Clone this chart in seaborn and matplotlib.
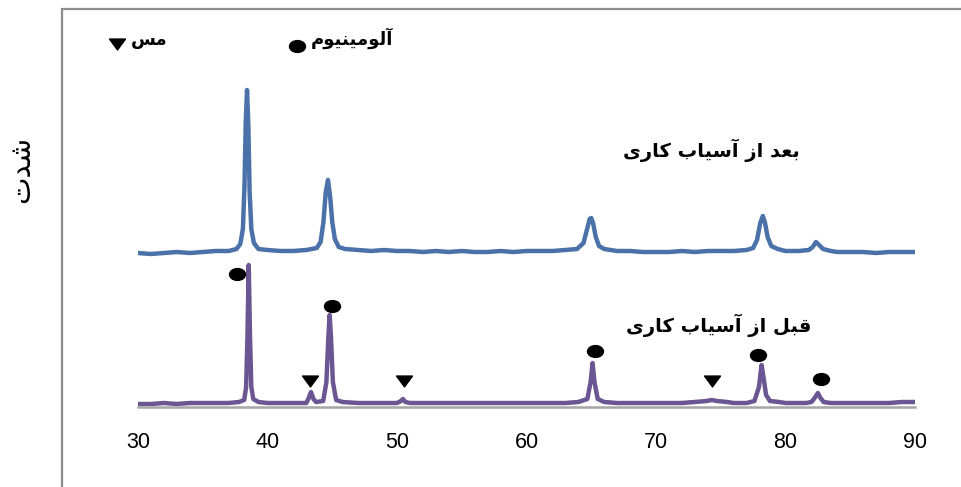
import matplotlib
matplotlib.use("Agg")
import matplotlib.pyplot as plt
import seaborn as sns
import pandas as pd
from matplotlib.path import Path
from matplotlib.patches import Rectangle
from matplotlib import transforms

# ---------------- data ----------------
after_x = [30, 31, 32, 33, 34, 35, 36, 37, 37.6, 37.9, 38.1, 38.22, 38.32, 38.42, 38.52, 38.62, 38.75, 38.95,
           39.3, 40, 41, 42, 43, 43.8, 44.1, 44.32, 44.5, 44.67, 44.84, 45.0, 45.2, 45.5, 46, 47, 48, 49,
           50, 51, 52, 53, 54, 55, 56, 57, 58, 59, 60, 61, 62, 63, 63.9, 64.4, 64.68, 64.88, 65.0, 65.14,
           65.35, 65.6, 66, 67, 68, 69, 70, 71, 72, 73, 74, 75, 76, 77, 77.5, 77.8, 78.05, 78.25, 78.42,
           78.62, 78.9, 79.4, 80, 81, 81.8, 82.1, 82.35, 82.6, 82.9, 83.5, 84, 85, 86, 87, 88, 89, 90]
after_y = [154, 153, 154, 155, 154, 155, 156, 156, 158, 163, 178, 220, 285, 317, 282, 215, 178, 164,
           158, 157, 156, 156, 157, 159, 165, 185, 215, 227, 210, 185, 168, 160, 158, 157, 156, 157,
           156, 156, 155, 156, 155, 156, 155, 155, 156, 155, 156, 156, 156, 157, 158, 164, 178, 188, 189, 184,
           170, 161, 158, 156, 156, 155, 155, 155, 156, 155, 156, 156, 156, 157, 159, 167, 184, 191, 184,
           170, 161, 158, 156, 156, 157, 160, 165, 162, 158, 156, 155, 155, 155, 154, 155, 155, 155]

before_x = [30, 31, 32, 33, 34, 35, 36, 37, 37.8, 38.2, 38.35, 38.45, 38.55, 38.65, 38.75, 38.9, 39.3,
            40, 41, 42, 43, 43.15, 43.36, 43.55, 43.75, 44.3, 44.55, 44.7, 44.8, 44.9, 45.05, 45.3, 45.8,
            47, 48, 49, 50, 50.3, 50.46, 50.65, 51, 52, 53, 54, 55, 56, 57, 58, 59, 60, 61, 62, 63, 64,
            64.7, 64.95, 65.1, 65.25, 65.5, 66, 67, 68, 69, 70, 71, 72, 73, 73.9, 74.3, 74.7, 75.5, 76, 77,
            77.6, 77.95, 78.15, 78.3, 78.5, 78.8, 79.5, 80, 81, 81.6, 82.0, 82.25, 82.5, 82.7, 82.95, 83.5,
            84, 85, 86, 87, 88, 89, 90]
before_y = [3, 3, 4, 3, 4, 4, 4, 4, 5, 7, 20, 70, 142, 70, 20, 8, 5,
            4, 4, 4, 4, 8, 15, 8, 5, 6, 25, 70, 92, 70, 25, 7, 5,
            4, 4, 4, 4, 6, 8, 5, 4, 4, 4, 4, 4, 4, 4, 4, 4, 4, 4, 4, 4, 5,
            8, 25, 44, 25, 8, 5, 4, 4, 4, 4, 4, 4, 5, 6, 7, 6, 5, 4, 4,
            6, 20, 42, 30, 12, 6, 5, 4, 4, 4, 5, 9, 14, 9, 5, 4,
            4, 4, 4, 4, 4, 5, 5]

al_x = [37.64, 44.98, 65.29, 77.9, 82.74]
al_y = [133, 101, 56, 52, 28]
cu_x = [43.28, 50.54, 74.3]
cu_y = [26, 26, 26]

x_ticks = [30, 40, 50, 60, 70, 80, 90]


def shaped(s):
    # text given in Arabic presentation forms (logical order); reversed for LTR rendering
    return s[::-1]


label_after = shaped("\uFE91\uFECC\uFEAA \uFE8D\uFEAF \uFE81\uFEB3\uFBFF\uFE8E\uFE8F \uFB90\uFE8E\uFEAD\uFBFC")
label_before = shaped("\uFED7\uFE92\uFEDE \uFE8D\uFEAF \uFE81\uFEB3\uFBFF\uFE8E\uFE8F \uFB90\uFE8E\uFEAD\uFBFC")
label_cu = shaped("\uFEE3\uFEB2")
label_al = shaped("\uFE81\uFEDF\uFEEE\uFEE3\uFBFF\uFEE8\uFBFF\uFEEE\uFEE1")
label_y = shaped("\uFEB7\uFEAA\uFE95")

blue = "#4A72A8"
purple = "#6B5592"

df = pd.concat([
    pd.DataFrame({"x": after_x, "y": after_y, "s": "after"}),
    pd.DataFrame({"x": before_x, "y": before_y, "s": "before"}),
])

sns.set_theme(style="white")
plt.rcParams["font.family"] = ["DejaVu Sans"]
plt.rcParams["text.color"] = "black"

W, H = 962, 487
fig = plt.figure(figsize=(W / 100, H / 100), dpi=100)
ax = fig.add_axes([138 / W, (H - 407) / H, (915 - 138) / W, 357 / H])

sns.lineplot(data=df, x="x", y="y", hue="s", palette={"after": blue, "before": purple},
             linewidth=3.2, ax=ax, legend=False, sort=False, estimator=None)

ellipse = Path.unit_circle().transformed(transforms.Affine2D().scale(1.35, 1.0))
tri = Path([(-1, 0.68), (1, 0.68), (0, -0.68), (-1, 0.68)], closed=True)

ax.plot(al_x, al_y, linestyle="none", marker=ellipse, markersize=11.5, color="black")
ax.plot(cu_x, cu_y, linestyle="none", marker=tri, markersize=11.5, color="black")

ax.set_xlim(30, 90)
ax.set_ylim(0, 357)
ax.set_xticks(x_ticks)
ax.set_xticklabels([str(t) for t in x_ticks], fontfamily="Liberation Sans", fontsize=15.5, color="black")
ax.set_yticks([])
ax.set_xlabel("")
ax.set_ylabel("")
for s in ["top", "right", "left"]:
    ax.spines[s].set_visible(False)
ax.spines["bottom"].set_color("#A6A6A6")
ax.spines["bottom"].set_linewidth(1.8)
ax.tick_params(axis="x", length=0, pad=18, colors="black")

# text labels
fig.text(711 / W, 1 - 150 / H, label_after, ha="center", va="center", fontsize=14, fontweight="bold", color="black")
fig.text(719 / W, 1 - 325 / H, label_before, ha="center", va="center", fontsize=14, fontweight="bold", color="black")
fig.text(21 / W, 1 - 169 / H, label_y, ha="center", va="center", rotation=90, fontsize=21, color="black")

# legend
fig.text(149 / W, 1 - 40 / H, label_cu, ha="center", va="center", fontsize=13, fontweight="bold", color="black")
fig.text(352 / W, 1 - 38 / H, label_al, ha="center", va="center", fontsize=13, fontweight="bold", color="black")
ax.plot([117 / W], [1 - 44 / H], transform=fig.transFigure, clip_on=False, marker=tri,
        markersize=11.5, color="black", linestyle="none")
ax.plot([297 / W], [1 - 46 / H], transform=fig.transFigure, clip_on=False, marker=ellipse,
        markersize=11.5, color="black", linestyle="none")

# chart frame
fig.patches.append(Rectangle((62 / W, -0.1), 2.0, 1.1 - 9 / H, transform=fig.transFigure,
                             fill=False, edgecolor="#8C8C8C", linewidth=1.6, figure=fig))

fig.savefig("out.png", dpi=100)
